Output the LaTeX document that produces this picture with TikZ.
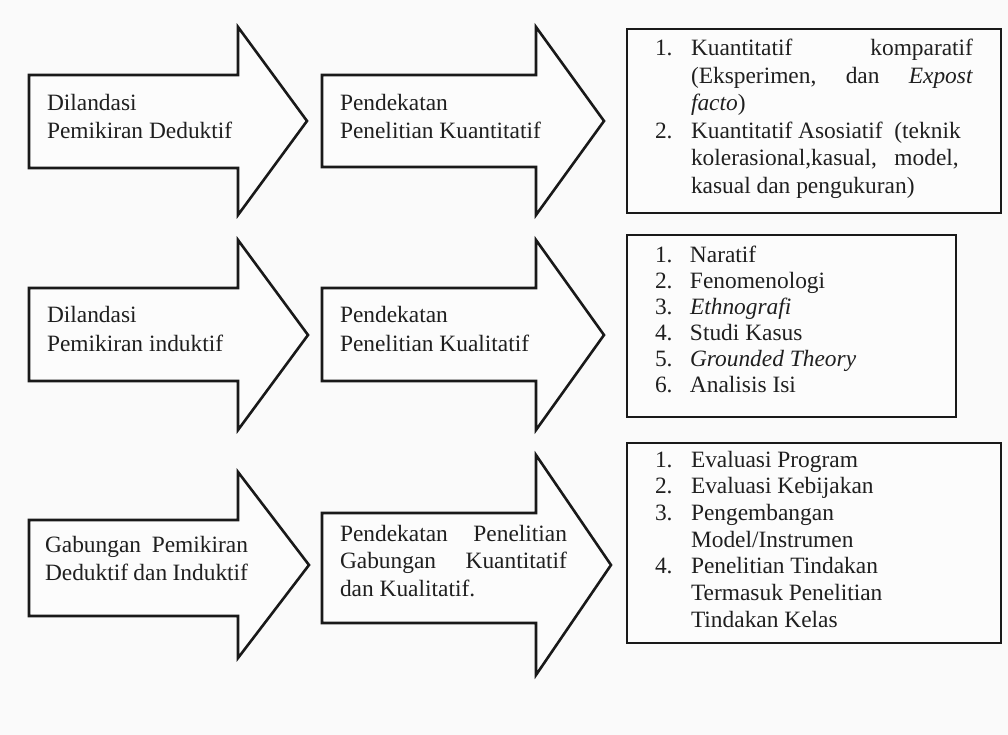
\documentclass[tikz,border=0pt]{standalone}
\usepackage{fontspec}
\setmainfont{Liberation Serif}
\usepackage{array}
\begin{document}
\begin{tikzpicture}[x=1pt,y=-1pt,
  shapeline/.style={draw=black!90,line width=2.6pt,fill=black!1,line join=miter},
  boxline/.style={draw=black!90,line width=2.4pt,fill=black!1},
  txt/.style={anchor=base west,inner sep=0pt,outer sep=0pt,text=black!88}]
\fill[black!2] (0,0) rectangle (1008,735);
\useasboundingbox (0,0) rectangle (1008,735);
% arrows
\draw[shapeline] (29,75) -- (238,75) -- (238,27) -- (307,121) -- (238,215) -- (238,168) -- (29,168) -- cycle;
\draw[shapeline] (322,75) -- (536,75) -- (536,27) -- (604,121) -- (536,215) -- (536,167) -- (322,167) -- cycle;
\draw[shapeline] (29,288) -- (238,288) -- (238,240) -- (308,335) -- (238,430) -- (238,381) -- (29,381) -- cycle;
\draw[shapeline] (322,288) -- (536,288) -- (536,240) -- (604,335) -- (536,430) -- (536,381) -- (322,381) -- cycle;
\draw[shapeline] (29,520) -- (238,520) -- (238,472) -- (309,565) -- (238,658) -- (238,616) -- (29,616) -- cycle;
\draw[shapeline] (322,513) -- (536,513) -- (536,455) -- (611,565) -- (536,675) -- (536,623) -- (322,623) -- cycle;
% boxes
\draw[boxline] (627,29) rectangle (1001,213);
\draw[boxline] (627,235) rectangle (956,417);
\draw[boxline] (627,443) rectangle (1001,643);
% arrow texts
\node[txt] (a1) at (47,111) {\fontsize{23.4}{28}\selectfont\begin{tabular}[t]{@{}l@{}}Dilandasi\\Pemikiran Deduktif\end{tabular}};
\node[txt] (a2) at (340,111) {\fontsize{23.4}{28}\selectfont\begin{tabular}[t]{@{}l@{}}Pendekatan\\Penelitian Kuantitatif\end{tabular}};
\node[txt] (b1) at (47,322) {\fontsize{23.4}{29}\selectfont\begin{tabular}[t]{@{}l@{}}Dilandasi\\Pemikiran induktif\end{tabular}};
\node[txt] (b2) at (340,322) {\fontsize{23.4}{29}\selectfont\begin{tabular}[t]{@{}l@{}}Pendekatan\\Penelitian Kualitatif\end{tabular}};
\node[txt] (c1) at (45,552) {\fontsize{23.4}{28}\selectfont\begin{tabular}[t]{@{}l@{}}\makebox[203pt][s]{Gabungan\hfill Pemikiran}\\\makebox[203pt][s]{Deduktif dan Induktif}\end{tabular}};
\node[txt] (c2) at (340,541) {\fontsize{23.4}{27.5}\selectfont\begin{tabular}[t]{@{}l@{}}\makebox[227pt][s]{Pendekatan\hfill Penelitian}\\\makebox[227pt][s]{Gabungan\hfill Kuantitatif}\\dan Kualitatif.\end{tabular}};
% list texts
\node[txt] (l1) at (655,56) {\fontsize{23.4}{27.5}\selectfont\begin{tabular}[t]{@{}p{36pt}@{}p{282pt}@{}}
1. & \makebox[282pt][s]{Kuantitatif\hfill komparatif}\\
 & \makebox[282pt][s]{(Eksperimen,\hfill dan\hfill \textit{Expost}}\\
 & \textit{facto})\\
2. & Kuantitatif Asosiatif\ \ (teknik\\
 & kolerasional,kasual,\ \ \ model,\\
 & kasual dan pengukuran)
\end{tabular}};
\node[txt] (l2) at (655,262) {\fontsize{23.4}{26}\selectfont\begin{tabular}[t]{@{}p{35pt}@{}l@{}}
1. & Naratif\\
2. & Fenomenologi\\
3. & \textit{Ethnografi}\\
4. & Studi Kasus\\
5. & \textit{Grounded Theory}\\
6. & Analisis Isi
\end{tabular}};
\node[txt] (l3) at (655,467) {\fontsize{23.4}{26.7}\selectfont\begin{tabular}[t]{@{}p{36pt}@{}l@{}}
1. & Evaluasi Program\\
2. & Evaluasi Kebijakan\\
3. & Pengembangan\\
 & Model/Instrumen\\
4. & Penelitian Tindakan\\
 & Termasuk Penelitian\\
 & Tindakan Kelas
\end{tabular}};
\end{tikzpicture}
\end{document}
